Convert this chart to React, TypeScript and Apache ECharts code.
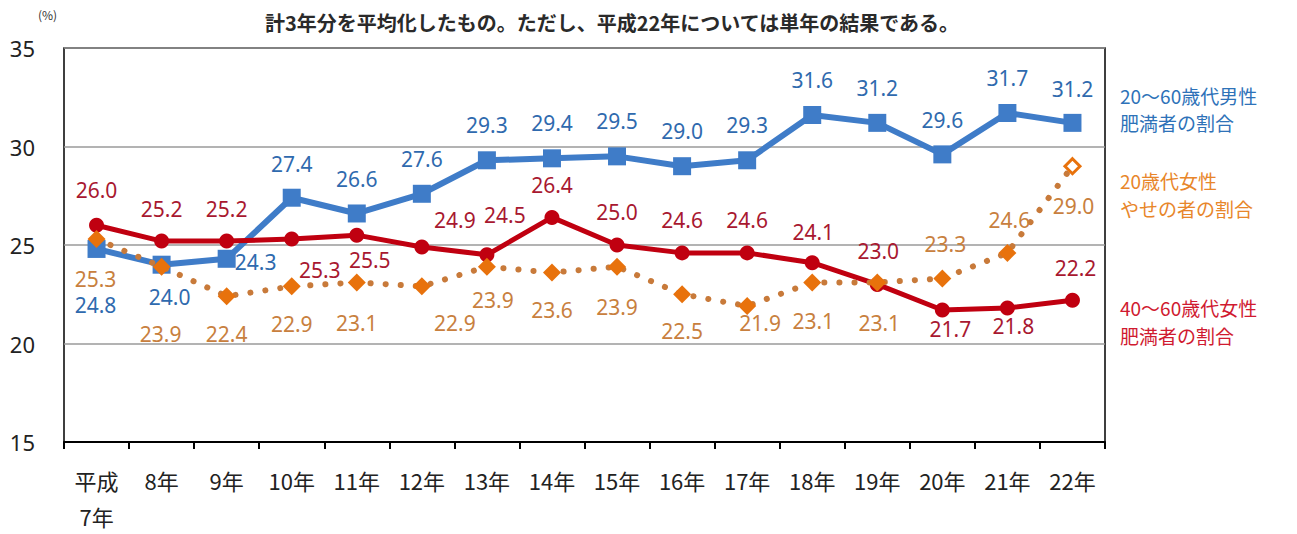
import React, { useEffect, useRef } from "react";
import * as echarts from "echarts";

const categories = ["平成\n7年", "8年", "9年", "10年", "11年", "12年", "13年", "14年", "15年", "16年", "17年", "18年", "19年", "20年", "21年", "22年"];
const maleObese = [24.8, 24.0, 24.3, 27.4, 26.6, 27.6, 29.3, 29.4, 29.5, 29.0, 29.3, 31.6, 31.2, 29.6, 31.7, 31.2];
const femaleObese = [26.0, 25.2, 25.2, 25.3, 25.5, 24.9, 24.5, 26.4, 25.0, 24.6, 24.6, 24.1, 23.0, 21.7, 21.8, 22.2];
const femaleThin = [25.3, 23.9, 22.4, 22.9, 23.1, 22.9, 23.9, 23.6, 23.9, 22.5, 21.9, 23.1, 23.1, 23.3, 24.6, 29.0];

// label offsets (label centre relative to the marker centre)
const maleOffsets: number[][] = [[-1, 56], [8, 32], [29, 3], [0, -34], [0, -34], [0, -35], [0, -35], [0, -35], [0, -35], [0, -35], [0, -35], [0, -35], [0, -35], [0, -34], [0, -35], [0, -34]];
const femaleObeseOffsets: number[][] = [[0, -35], [0, -32], [0, -32], [28, 31], [13, 25], [33, -27], [18, -40], [0, -32], [0, -33], [0, -33], [0, -33], [1, -31], [1, -33], [8, 19], [6, 18], [3, -32]];
const femaleThinOffsets: number[][] = [[-1, 40], [-1, 67], [0, 38], [0, 38], [0, 41], [33, 37], [6, 33], [0, 37], [0, 40], [0, 37], [13, 17], [1, 39], [2, 41], [3, -34], [2, -33], [1, 40]];

const NUM_FONT = "'Noto Sans', sans-serif";
const CJK_FONT = "'Noto Sans CJK JP', 'Noto Sans', sans-serif";

function buildData(values: number[], offsets: number[][], color: string, extra?: (i: number) => any) {
  return values.map((v, i) => {
    const item: any = {
      value: v,
      label: {
        show: true,
        position: "inside",
        offset: offsets[i],
        formatter: (p: any) => Number(p.value).toFixed(1),
        color,
        fontSize: 21,
        fontFamily: NUM_FONT,
      },
    };
    if (extra) Object.assign(item, extra(i));
    return item;
  });
}

export default function App() {
  const ref = useRef<HTMLDivElement>(null);
  useEffect(() => {
    if (!ref.current) return;
    const chart = echarts.init(ref.current, undefined, { renderer: "svg" });
    const blue = "#3f7cc8";
    const red = "#c00010";
    const orange = "#e8720c";
    chart.setOption({
      animation: false,
      backgroundColor: "#ffffff",
      grid: { left: 64, right: 192, top: 48, bottom: 86, show: true, borderColor: "#000", borderWidth: 1.5 },
      xAxis: {
        type: "category",
        data: categories,
        boundaryGap: true,
        axisLine: { show: true, lineStyle: { color: "#000", width: 2 } },
        axisTick: { show: true, length: 7, lineStyle: { color: "#000", width: 2 } },
        axisLabel: { color: "#222", fontSize: 22, fontFamily: CJK_FONT, margin: 20, lineHeight: 36, interval: 0 },
      },
      yAxis: {
        type: "value",
        min: 15,
        max: 35,
        interval: 5,
        axisLine: { show: false },
        axisTick: { show: false },
        axisLabel: { color: "#222", fontSize: 22, fontFamily: NUM_FONT, margin: 29 },
        splitLine: { show: true, lineStyle: { color: "#9a9a9a", width: 1.5 } },
      },
      graphic: [
        { type: "text", left: 38, top: 8, style: { text: "(%)", fontSize: 12, fill: "#333", fontFamily: CJK_FONT } },
        {
          type: "text",
          x: 612,
          y: 22,
          style: {
            text: "計3年分を平均化したもの。ただし、平成22年については単年の結果である。",
            fill: "#2a2a2a",
            fontSize: 20,
            fontWeight: "bold",
            fontFamily: CJK_FONT,
            align: "center",
            verticalAlign: "middle",
          },
        },
        { type: "text", x: 1120, y: 82, style: { text: "20～60歳代男性\n肥満者の割合", fill: "#2e72b8", fontSize: 19, lineHeight: 27, fontFamily: CJK_FONT } },
        { type: "text", x: 1120, y: 166, style: { text: "20歳代女性\nやせの者の割合", fill: "#e8862a", fontSize: 19, lineHeight: 28, fontFamily: CJK_FONT } },
        { type: "text", x: 1120, y: 293, style: { text: "40～60歳代女性\n肥満者の割合", fill: "#d01a30", fontSize: 19, lineHeight: 28, fontFamily: CJK_FONT } },
      ],
      series: [
        {
          name: "20～60歳代男性肥満者の割合",
          type: "line",
          data: buildData(maleObese, maleOffsets, "#2f6aae"),
          symbol: "rect",
          symbolSize: 18,
          itemStyle: { color: blue },
          lineStyle: { color: blue, width: 6 },
          z: 2,
        },
        {
          name: "40～60歳代女性肥満者の割合",
          type: "line",
          data: buildData(femaleObese, femaleObeseOffsets, "#a81830"),
          symbol: "circle",
          symbolSize: 15,
          itemStyle: { color: red },
          lineStyle: { color: red, width: 5 },
          z: 3,
        },
        {
          name: "20歳代女性やせの者の割合",
          type: "line",
          data: buildData(femaleThin, femaleThinOffsets, "#c8803e", (i) =>
            i === femaleThin.length - 1
              ? { itemStyle: { color: "#ffffff", borderColor: orange, borderWidth: 3 }, symbolSize: 15 }
              : {}
          ),
          symbol: "diamond",
          symbolSize: 18,
          itemStyle: { color: orange },
          lineStyle: { color: "#c87a3a", width: 6, type: [0.1, 15], cap: "round" },
          z: 4,
        },
      ],
    });
    return () => chart.dispose();
  }, []);
  return <div ref={ref} style={{ position: "fixed", left: 0, top: 0, width: 1297, height: 534 }} />;
}
